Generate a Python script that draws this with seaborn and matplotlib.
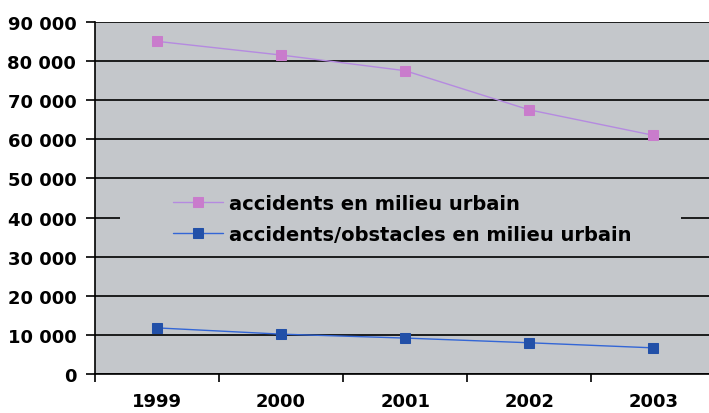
import pandas as pd
import numpy as np
import matplotlib.pyplot as plt
import seaborn as sns
from matplotlib.patches import Rectangle
from matplotlib.ticker import FuncFormatter, FixedLocator

annees = ['1999', '2000', '2001', '2002', '2003']
urbain = [85000, 81500, 77500, 67500, 61000]
obstacles = [11800, 10200, 9200, 8000, 6700]
labels = ['accidents en milieu urbain', 'accidents/obstacles en milieu urbain']

df = pd.DataFrame({'annee': annees, 'urbain': urbain, 'obstacles': obstacles})

sns.set_style('white')
plt.rcParams['font.family'] = ['DejaVu Sans']
plt.rcParams['font.weight'] = 'bold'
plt.rcParams['text.color'] = 'black'
plt.rcParams['xtick.color'] = 'black'
plt.rcParams['ytick.color'] = 'black'

fig = plt.figure(figsize=(7.09, 4.14), dpi=100)
ax = fig.add_axes([0.134, 0.094, 0.875, 0.851])
ax.set_facecolor('#c4c7cb')

sns.lineplot(data=df, x='annee', y='urbain', ax=ax, color='#b58ae0', lw=1,
             marker='s', markersize=7.5, markerfacecolor='#c97ccc',
             markeredgecolor='#c97ccc', label=labels[0], zorder=4)
sns.lineplot(data=df, x='annee', y='obstacles', ax=ax, color='#3366d6', lw=1,
             marker='s', markersize=7.5, markerfacecolor='#2250a8',
             markeredgecolor='#2250a8', label=labels[1], zorder=4)

ax.set_xlim(-0.5, 4.5)
ax.set_ylim(0, 90000)
ax.set_yticks(np.arange(0, 90001, 10000))
ax.yaxis.set_major_formatter(FuncFormatter(lambda v, p: f'{int(v):,}'.replace(',', ' ')))
ax.grid(axis='y', color='black', lw=1.2, zorder=1)
ax.set_axisbelow(True)

ax.xaxis.set_minor_locator(FixedLocator(np.arange(-0.5, 4.6, 1)))
ax.tick_params(axis='x', which='major', length=0, pad=13, labelsize=13, labelcolor='black')
ax.tick_params(axis='x', which='minor', length=6, width=1.2, color='black', direction='out', bottom=True)
ax.tick_params(axis='y', length=6.5, width=1.2, color='black', direction='out', left=True,
               labelsize=13, pad=7, labelcolor='black')
for t in ax.get_xticklabels() + ax.get_yticklabels():
    t.set_fontweight('bold')

for s in ['top', 'right']:
    ax.spines[s].set_visible(False)
for s in ['left', 'bottom']:
    ax.spines[s].set_color('black')
    ax.spines[s].set_linewidth(1.2)

ax.set_xlabel('')
ax.set_ylabel('')

# masque la grille derrière la légende
ax.add_patch(Rectangle((0.04, 0.36), 0.905, 0.165, transform=ax.transAxes,
                       facecolor='#c4c7cb', edgecolor='none', zorder=2))
leg = ax.legend(loc='upper left', bbox_to_anchor=(0.097, 0.562), frameon=False,
                handlelength=2.6, handletextpad=0.3, labelspacing=0.63,
                prop={'weight': 'bold', 'size': 14})
for t in leg.get_texts():
    t.set_color('black')
leg.set_zorder(5)

fig.savefig('out.png', dpi=100, facecolor='white')
